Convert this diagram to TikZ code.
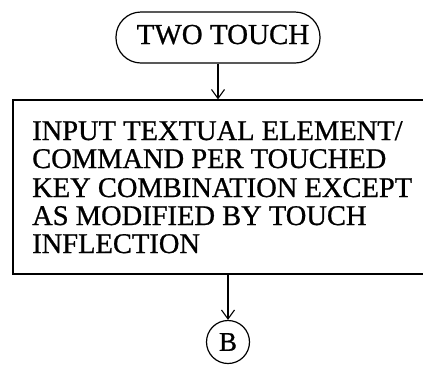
\documentclass[tikz,border=0pt]{standalone}
\usepackage{fontspec}
\setmainfont{Liberation Serif}[FakeBold=0.8]
\usetikzlibrary{arrows.meta}
\tikzset{
  x=1pt, y=-1pt,
  stroke/.style={line width=1.2pt, black},
  term/.style={stroke, draw, rounded corners=25pt, minimum width=204pt, minimum height=51pt, inner sep=0pt},
  procbox/.style={stroke, draw, minimum width=417pt, minimum height=174pt, inner sep=0pt},
  conn/.style={stroke, draw, circle, minimum size=43pt, inner sep=0pt},
  txt/.style={font=\fontsize{28.5}{28}\selectfont, inner sep=0pt},
  flow/.style={stroke, -{Straight Barb[length=9pt,width=13pt,line width=1.1pt]}},
}
\begin{document}
\begin{tikzpicture}
\useasboundingbox (0,0) rectangle (423,365);
\node[term] (start) at (218,37.5) {};
\node[txt, font=\fontsize{29}{30}\selectfont, anchor=base] (starttxt) at (223,44) {TWO TOUCH};
\node[procbox] (box) at (221.5,187) {};
\node[txt, anchor=base west] (t1) at (32,140) {INPUT TEXTUAL ELEMENT/};
\node[txt, anchor=base west] (t2) at (32,168) {COMMAND PER TOUCHED};
\node[txt, anchor=base west] (t3) at (32,197) {KEY COMBINATION EXCEPT};
\node[txt, anchor=base west] (t4) at (32,225) {AS MODIFIED BY TOUCH};
\node[txt, anchor=base west] (t5) at (32,253) {INFLECTION};
\node[conn] (b) at (228,342) {};
\node[txt, font=\fontsize{27}{28}\selectfont] (btxt) at (228,342) {B};
\draw[flow] (start.south) -- (start.south |- box.north);
\draw[flow] (box.south -| b.north) -- (b.north);
\end{tikzpicture}
\end{document}
